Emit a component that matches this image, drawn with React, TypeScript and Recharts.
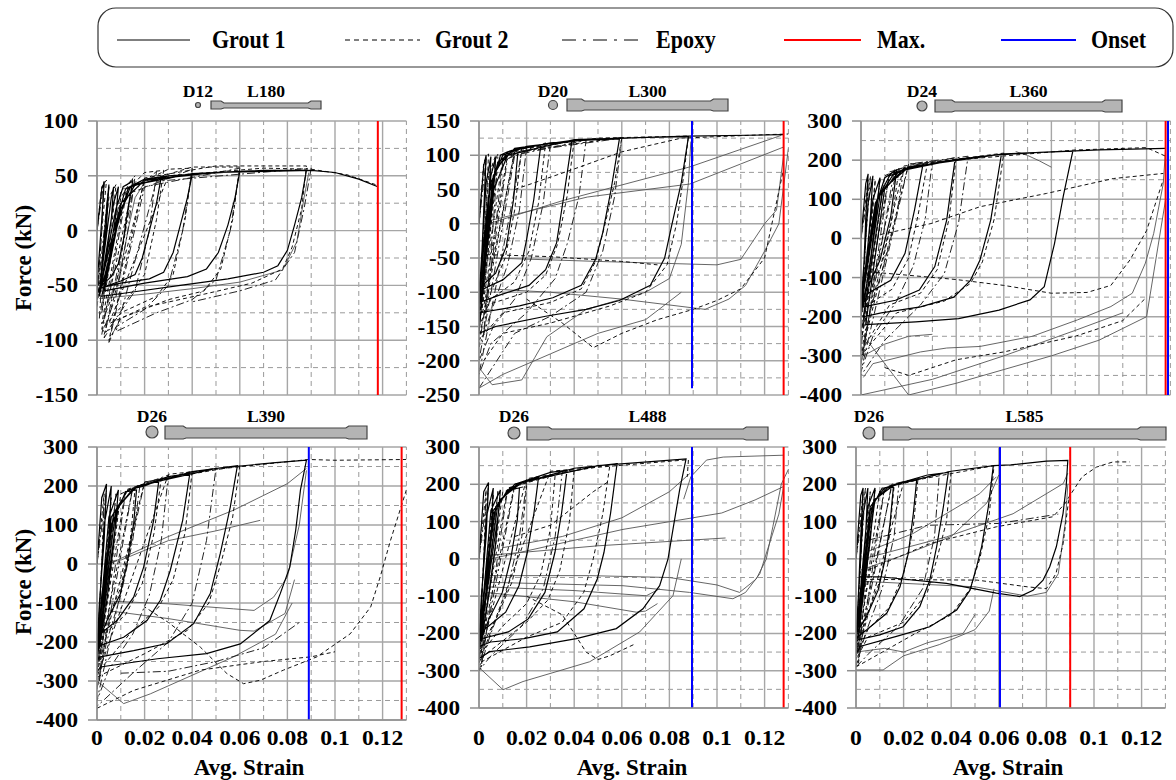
import React from "react";
import { LineChart, Line, XAxis, YAxis, ReferenceLine } from "recharts";

type Pt = [number, number] | null;

const xTicks = [0, 0.02, 0.04, 0.06, 0.08, 0.1, 0.12];
const xMinor = [0.01, 0.03, 0.05, 0.07, 0.09, 0.11, 0.13];
const yTicksP1 = [-150, -100, -50, 0, 50, 100];
const yMinorP1 = [-125, -75, -25, 25, 75];
const yTicksP2 = [-250, -200, -150, -100, -50, 0, 50, 100, 150];
const yMinorP2 = [-225, -175, -125, -75, -25, 25, 75, 125];
const yTicksBig = [-400, -300, -200, -100, 0, 100, 200, 300];
const yMinorBig = [-350, -250, -150, -50, 50, 150, 250];

const diameters = ["D12", "D20", "D24", "D26", "D26", "D26"];
const lengths = ["L180", "L300", "L360", "L390", "L488", "L585"];
const maxStrain = [0.118, 0.128, 0.128, 0.128, 0.128, 0.09];
const onsetStrain: (number | null)[] = [null, 0.0895, 0.129, 0.089, 0.0895, 0.0605];

// ---- D12 L180 ----
const p1Grout1: Pt[] = [
  [0, 0], [0.002, 38], [0.003, 44], [0.002, 10], [0, -50], [0.001, -58], [0.004, 20], [0.005, 42], [0.004, 5], [0.001, -55],
  [0.006, 30], [0.007, 40], [0.006, 10], [0.002, -50], [0.001, -60], [0.007, 25], [0.009, 40], [0.008, 15], [0.004, -40], [0.001, -55],
  [0.008, 20], [0.011, 40], [0.015, 45], [0.013, 20], [0.011, -10], [0.009, -30], [0.006, -42], [0.002, -50], [0.001, -55], [0.007, 0],
  [0.012, 38], [0.02, 47], [0.027, 49], [0.025, 25], [0.022, 0], [0.019, -25], [0.016, -40], [0.01, -46], [0.002, -52], [0.008, 0],
  [0.013, 38], [0.02, 47], [0.03, 50], [0.04, 51], [0.038, 30], [0.035, 5], [0.032, -20], [0.028, -38], [0.022, -44], [0.01, -48],
  [0.002, -52], [0.009, 10], [0.014, 40], [0.03, 50], [0.045, 52], [0.06, 54], [0.058, 30], [0.055, 5], [0.051, -20], [0.046, -35],
  [0.038, -42], [0.02, -48], [0.003, -55], [0.01, 20], [0.016, 42], [0.04, 52], [0.07, 55], [0.088, 55], [0.086, 30], [0.083, 5],
  [0.08, -18], [0.076, -32], [0.07, -38], [0.055, -44], [0.035, -50], [0.015, -56], [0.002, -60], [0.01, 25], [0.02, 46], [0.05, 53],
  [0.09, 55], [0.1, 53], [0.11, 47], [0.118, 40],
];
const p1Grout1b: Pt[] = [
  [0.001, -62], [0.02, -58], [0.04, -53], [0.06, -47], [0.078, -36], [0.084, -10], [0.087, 30], [0.089, 53],
  null, [0.003, -75], [0.01, -35], [0.013, 0], [0.016, 30], [0.02, 44],
];
const p1Grout2: Pt[] = [
  [0, 0], [0.002, 40], [0.004, 46], [0.002, 0], [0, -70], [0.005, 30], [0.008, 42], [0.006, 0], [0.002, -75], [0.01, 30],
  [0.015, 48], [0.012, 0], [0.008, -50], [0.002, -85], [0.012, 35], [0.02, 53], [0.028, 55], [0.025, 10], [0.02, -40], [0.012, -65],
  [0.002, -90], [0.015, 40], [0.03, 56], [0.04, 57], [0.037, 10], [0.032, -40], [0.025, -60], [0.01, -75], [0.003, -95], [0.02, 45],
  [0.04, 58], [0.06, 58], [0.057, 10], [0.052, -35], [0.045, -55], [0.03, -63], [0.01, -80], [0.005, -100], [0.02, 48], [0.05, 59],
  [0.088, 59], [0.086, 20], [0.082, -15], [0.078, -35], [0.065, -48], [0.045, -58], [0.02, -70], [0.005, -85], [0.03, 50], [0.07, 57],
  [0.09, 56], [0.105, 51], [0.117, 42],
];
const p1Epoxy: Pt[] = [
  [0, 0], [0.003, 45], [0.002, 0], [0, -60], [0.005, 40], [0.003, -10], [0.001, -80], [0.01, 35], [0.016, 50], [0.013, 0],
  [0.008, -60], [0.002, -95], [0.012, 30], [0.025, 54], [0.022, 0], [0.016, -55], [0.008, -80], [0.003, -98], [0.015, 35], [0.04, 56],
  [0.036, 0], [0.03, -50], [0.02, -72], [0.008, -88], [0.005, -102], [0.02, 40], [0.06, 57], [0.056, 0], [0.05, -45], [0.04, -63],
  [0.025, -75], [0.008, -92], [0.025, 45], [0.09, 57], [0.087, 20], [0.083, -20], [0.075, -45], [0.06, -55], [0.04, -65],
];

// ---- D20 L300 ----
const p2Grout1: Pt[] = [
  [0, 0], [0.002, 85], [0.003, 100], [0.002, 20], [0.001, -60], [0, -110], [0.003, 60], [0.005, 98], [0.004, 30], [0.002, -60],
  [0.001, -115], [0.005, 70], [0.007, 97], [0.006, 40], [0.003, -50], [0.001, -120], [0.006, 60], [0.009, 100], [0.012, 105], [0.0165, 110],
  [0.0145, 35], [0.0115, -33], [0.007, -72], [0.003, -85], [0, -95], [0.004, 40], [0.008, 90], [0.015, 108], [0.02, 112], [0.026, 115],
  [0.023, 35], [0.02, -23], [0.018, -57], [0.01, -82], [0.003, -93], [0, -100], [0.005, 60], [0.01, 100], [0.02, 113], [0.03, 117],
  [0.039, 120], [0.0354, 35], [0.0326, -28], [0.028, -67], [0.021, -90], [0.008, -105], [0, -115], [0.006, 70], [0.012, 105], [0.03, 118],
  [0.045, 122], [0.059, 124], [0.0555, 50], [0.052, -13], [0.049, -52], [0.043, -90], [0.031, -108], [0.017, -120], [0, -130], [0.007, 80],
  [0.015, 110], [0.04, 122], [0.07, 126], [0.088, 127], [0.085, 60], [0.081, -2], [0.078, -50], [0.072, -90], [0.059, -112], [0.045, -125],
  [0.028, -135], [0.007, -150], [0, -160], [0.005, 40], [0.012, 100], [0.04, 123], [0.088, 128], [0.128, 130],
];
const p2Grout1b: Pt[] = [
  [0.13, 110], [0.126, 0], [0.12, -40], [0.112, -90], [0.105, -110], [0.095, -125], [0.06, -110], [0.03, -100], [0.004, -95],
  null, [0.004, 0], [0.0354, 34], [0.0886, 83], [0.127, 129],
  null, [0.128, 100], [0.125, 20], [0.12, 0], [0.11, -52], [0.1, -60], [0.05, -55], [0.005, -50],
  null, [0.005, 5], [0.0455, 39], [0.0886, 58], [0.128, 112],
  null, [0, -210], [0.0055, -235], [0.018, -228], [0.0235, -195], [0.0285, -165], [0.045, -125], [0.07, -100], [0.08, -80], [0.085, -30], [0.088, 60], [0.089, 120],
  null, [0, -240], [0.01, -220], [0.03, -190], [0.05, -160], [0.07, -140], [0.085, -100],
];
const p2Grout2: Pt[] = [
  [0, 0], [0.002, 90], [0.004, 102], [0.003, 20], [0, -120], [0.004, 70], [0.007, 100], [0.005, 0], [0.001, -130], [0.008, 90],
  [0.018, 112], [0.015, 20], [0.011, -50], [0.005, -100], [0, -140], [0.01, 95], [0.028, 118], [0.025, 30], [0.021, -40], [0.015, -85],
  [0.005, -110], [0, -150], [0.012, 100], [0.04, 122], [0.037, 40], [0.033, -30], [0.028, -75], [0.02, -100], [0.002, -120], [0.015, 105],
  [0.06, 126], [0.057, 60], [0.053, 0], [0.049, -55], [0.043, -95], [0.03, -115], [0.01, -130], [0, -170], [0.015, 108], [0.05, 125],
  [0.088, 128], [0.086, 70], [0.083, 0], [0.079, -60], [0.07, -100], [0.055, -120], [0.03, -145], [0.01, -160], [0.002, -200],
  null, [0.015, 50], [0.04, 80], [0.06, 105], [0.085, 125], [0.12, 130], [0.13, 131],
  null, [0.02, -110], [0.035, -145], [0.048, -181], [0.06, -160], [0.075, -140], [0.09, -125], [0.1, -112], [0.11, -95], [0.12, -50], [0.128, 80],
  null, [0.003, -45], [0.03, -48], [0.06, -55], [0.075, -60],
];
const p2Epoxy: Pt[] = [
  [0, 0], [0.003, 95], [0.002, 0], [0, -150], [0.005, 80], [0.008, 102], [0.006, 0], [0.002, -160], [0.01, 90], [0.02, 112],
  [0.017, 20], [0.012, -60], [0.006, -120], [0, -180], [0.012, 95], [0.03, 118], [0.027, 30], [0.022, -50], [0.015, -110], [0.006, -150],
  [0, -200], [0.015, 100], [0.045, 122], [0.042, 40], [0.037, -30], [0.032, -80], [0.02, -130], [0.005, -175], [0, -220], [0.018, 105],
  [0.06, 125], [0.057, 40], [0.052, -40], [0.045, -100], [0.03, -135], [0.015, -160], [0, -240],
];

// ---- D24 L360 ----
const p3Grout1: Pt[] = [
  [0, 0], [0.002, 140], [0.003, 165], [0.002, 50], [0.001, -100], [0, -170], [0.003, 90], [0.005, 160], [0.004, 60], [0.002, -80],
  [0, -180], [0.005, 100], [0.008, 155], [0.006, 40], [0.003, -100], [0, -185], [0.006, 80], [0.01, 155], [0.015, 175], [0.0125, 56],
  [0.008, -55], [0.003, -123], [0, -160], [0.006, 90], [0.012, 160], [0.02, 178], [0.026, 188], [0.0225, 73], [0.0185, -38], [0.0125, -107],
  [0.003, -140], [0, -180], [0.007, 100], [0.014, 168], [0.03, 192], [0.0395, 201], [0.036, 47], [0.031, -72], [0.0245, -132], [0.0145, -158],
  [0.001, -175], [0.008, 110], [0.016, 172], [0.04, 202], [0.059, 215], [0.0545, 47], [0.05, -55], [0.046, -107], [0.039, -150], [0.025, -175],
  [0.0085, -190], [0.001, -200], [0.009, 120], [0.018, 178], [0.05, 210], [0.075, 220], [0.089, 223], [0.085, 108], [0.0813, -13], [0.077, -123],
  [0.071, -157], [0.058, -183], [0.041, -205], [0.023, -213], [0.002, -220], [0.01, 130], [0.02, 182], [0.06, 216], [0.1, 226], [0.128, 230],
];
const p3Grout1b: Pt[] = [
  [0.128, 230], [0.127, 140], [0.123, 13], [0.1195, -63], [0.114, -140], [0.105, -174], [0.091, -208], [0.072, -250], [0.05, -276], [0.036, -280],
  [0.025, -290], [0.005, -320], [0.001, -355],
  null, [0, -240], [0.02, -400], [0.04, -370], [0.06, -335], [0.08, -300], [0.1, -260], [0.12, -200], [0.128, 100],
  null, [0, -400], [0.03, -360], [0.06, -300], [0.09, -235], [0.11, -190],
  null, [0.065, 222], [0.07, 212], [0.075, 198], [0.08, 182],
  null, [0.001, -300], [0.01, -270], [0.02, -250], [0.03, -245],
];
const p3Grout2: Pt[] = [
  [0, 0], [0.003, 150], [0.002, 0], [0, -200], [0.006, 150], [0.004, 0], [0.001, -220], [0.01, 160], [0.016, 178], [0.013, 50],
  [0.009, -60], [0.003, -150], [0, -240], [0.012, 165], [0.028, 195], [0.024, 60], [0.02, -50], [0.013, -130], [0.003, -170], [0, -260],
  [0.015, 175], [0.04, 207], [0.037, 50], [0.032, -80], [0.025, -140], [0.012, -170], [0, -290], [0.018, 185], [0.06, 218], [0.056, 50],
  [0.051, -60], [0.046, -115], [0.035, -160], [0.015, -190], [0, -300], [0.02, 190], [0.09, 226], [0.12, 232], [0.128, 210],
  null, [0.0083, 10], [0.0294, 38], [0.05, 81], [0.078, 115], [0.106, 153], [0.127, 166],
  null, [0.003, -85], [0.04, -105], [0.06, -120], [0.08, -140], [0.095, -138], [0.105, -120], [0.113, -55], [0.12, 20], [0.127, 150],
  null, [0.01, -330], [0.02, -350], [0.04, -310], [0.06, -290], [0.09, -250], [0.11, -210], [0.12, -150],
];
const p3Epoxy: Pt[] = [
  [0, 0], [0.004, 160], [0.002, 0], [0, -280], [0.008, 150], [0.005, 0], [0.001, -300], [0.012, 170], [0.018, 180], [0.015, 60],
  [0.01, -60], [0.004, -180], [0, -320], [0.014, 175], [0.03, 198], [0.027, 50], [0.022, -70], [0.015, -160], [0.005, -250], [0, -340],
  [0.02, 190], [0.045, 210], [0.041, 40], [0.035, -90], [0.025, -170], [0.01, -260], [0, -350],
];

// ---- D26 L390 ----
const p4Grout1: Pt[] = [
  [0, 0], [0.002, 170], [0.004, 205], [0.003, 60], [0.001, -100], [0, -220], [0.003, 100], [0.006, 200], [0.005, 60], [0.002, -80],
  [0, -230], [0.005, 120], [0.009, 190], [0.007, 50], [0.004, -100], [0.001, -210], [0.006, 100], [0.012, 185], [0.0166, 190], [0.0154, 103],
  [0.0126, 0], [0.0098, -77], [0.0042, -145], [0.0007, -196], [0, -220], [0.006, 120], [0.013, 190], [0.02, 200], [0.026, 215], [0.0238, 112],
  [0.0196, -8], [0.0154, -85], [0.0084, -145], [0.0014, -179], [0, -210], [0.007, 130], [0.015, 192], [0.03, 224], [0.039, 232], [0.036, 112],
  [0.0308, -16], [0.0266, -93], [0.021, -145], [0.0112, -188], [0.0014, -209], [0, -230], [0.008, 140], [0.016, 195], [0.04, 237], [0.059, 252],
  [0.056, 146], [0.0518, 27], [0.0476, -76], [0.0406, -153], [0.0294, -204], [0.0154, -222], [0.0014, -238], [0, -245], [0.009, 150], [0.017, 200],
  [0.05, 245], [0.075, 260], [0.088, 266], [0.0855, 190], [0.0835, 87], [0.081, -8], [0.077, -76], [0.0726, -145], [0.0602, -205], [0.046, -230],
  [0.0254, -243], [0.0014, -264], [0, -277],
];
const p4Grout1b: Pt[] = [
  [0.005, 0], [0.0294, 69], [0.0574, 138], [0.08, 206], [0.088, 245],
  null, [0.01, 10], [0.03, 60], [0.05, 85], [0.0686, 112],
  null, [0.005, -95], [0.0294, -102], [0.0574, -115], [0.066, -119], [0.0742, -85], [0.08, -33], [0.085, 100], [0.088, 240],
  null, [0.005, -120], [0.03, -140], [0.06, -170], [0.066, -172], [0.079, -127], [0.083, -40],
  null, [0, -300], [0.0112, -358], [0.0224, -333], [0.0574, -238], [0.075, -180], [0.082, -100],
];
const p4Grout2: Pt[] = [
  [0, 0], [0.003, 180], [0.002, 0], [0, -240], [0.006, 170], [0.004, 0], [0.001, -250], [0.01, 180], [0.016, 195], [0.014, 60],
  [0.01, -60], [0.004, -150], [0, -260], [0.012, 190], [0.027, 220], [0.024, 80], [0.019, -50], [0.012, -130], [0.003, -180], [0, -270],
  [0.015, 195], [0.04, 238], [0.037, 80], [0.032, -40], [0.026, -110], [0.015, -170], [0, -280], [0.02, 210], [0.06, 252], [0.057, 120],
  [0.052, 0], [0.047, -100], [0.038, -170], [0.02, -230], [0, -290], [0.03, 230], [0.089, 268], [0.1, 266], [0.13, 268],
  null, [0.13, 190], [0.1233, 60], [0.119, -33], [0.115, -110], [0.1064, -179], [0.0924, -238], [0.0784, -272], [0.0686, -298], [0.0616, -307],
  [0.0546, -281], [0.0434, -213], [0.03, -150], [0.02, -110],
  null, [0, -370], [0.0154, -324], [0.0434, -272], [0.07, -250], [0.09, -238], [0.1, -225],
];
const p4Epoxy: Pt[] = [
  [0, 0], [0.004, 190], [0.002, 0], [0, -280], [0.008, 180], [0.005, 0], [0.001, -300], [0.012, 185], [0.018, 200], [0.015, 60],
  [0.01, -80], [0.004, -200], [0, -320], [0.015, 195], [0.03, 228], [0.027, 60], [0.022, -80], [0.015, -180], [0.005, -270], [0, -350],
  [0.02, 210], [0.05, 246], [0.046, 60], [0.04, -100], [0.03, -200], [0.015, -280], [0, -365],
  null, [0.01, -280], [0.03, -275], [0.05, -250], [0.07, -215], [0.085, -150],
];

// ---- D26 L488 ----
const p5Grout1: Pt[] = [
  [0, 0], [0.002, 180], [0.004, 205], [0.003, 60], [0.001, -100], [0, -230], [0.003, 110], [0.006, 190], [0.005, 50], [0.002, -90],
  [0, -240], [0.005, 130], [0.009, 185], [0.007, 40], [0.004, -100], [0.001, -220], [0.006, 120], [0.012, 185], [0.017, 190], [0.0161, 105],
  [0.0133, -1], [0.0098, -90], [0.0042, -161], [0.0014, -205], [0, -220], [0.006, 130], [0.013, 190], [0.02, 208], [0.025, 218], [0.0231, 123],
  [0.0203, 17], [0.0168, -72], [0.0112, -143], [0.0028, -187], [0, -200], [0.007, 140], [0.015, 200], [0.03, 232], [0.037, 238], [0.0347, 123],
  [0.0319, 17], [0.0277, -90], [0.0207, -161], [0.0123, -196], [0.001, -214], [0, -225], [0.008, 150], [0.016, 200], [0.04, 243], [0.058, 255],
  [0.0553, 123], [0.0525, 17], [0.0497, -54], [0.0441, -134], [0.0329, -196], [0.0189, -214], [0.0049, -223], [0, -235], [0.009, 160], [0.018, 205],
  [0.05, 250], [0.075, 262], [0.087, 268], [0.0843, 185], [0.0815, 79], [0.0794, -1], [0.0759, -72], [0.0689, -134], [0.0577, -187], [0.0409, -214],
  [0.0213, -236], [0.0045, -249], [0, -267],
];
const p5Grout1b: Pt[] = [
  [0.0045, -45], [0.0465, -45], [0.08, -50], [0.1, -70], [0.1095, -90], [0.1165, -54], [0.1207, -1], [0.1235, 87], [0.127, 200], [0.13, 240],
  null, [0.0049, -63], [0.0605, -72], [0.0885, -90], [0.1067, -107], [0.112, -90], [0.118, -40], [0.122, 40], [0.126, 120], [0.128, 194],
  null, [0.005, 0], [0.0605, 79], [0.102, 123], [0.116, 158], [0.128, 194],
  null, [0.005, 10], [0.05, 35], [0.1036, 56],
  null, [0.086, 160], [0.089, 220], [0.0956, 265], [0.1026, 273], [0.128, 278],
  null, [0.01, 30], [0.035, 60], [0.06, 110], [0.08, 180], [0.0886, 229],
  null, [0.0003, -293], [0.0101, -351], [0.0185, -329], [0.0465, -276], [0.0675, -196], [0.0815, -99], [0.085, 0],
  null, [0.003, -75], [0.04, -85], [0.0703, -99], [0.076, -80],
  null, [0.003, -90], [0.04, -115], [0.0661, -143], [0.07, -140], [0.075, -120],
];
const p5Grout2: Pt[] = [
  [0, 0], [0.003, 185], [0.002, 0], [0, -240], [0.006, 175], [0.004, 0], [0.001, -250], [0.01, 180], [0.02, 195], [0.018, 60],
  [0.014, -60], [0.008, -150], [0, -250], [0.012, 190], [0.032, 225], [0.03, 80], [0.026, -40], [0.02, -120], [0.01, -180], [0, -260],
  [0.015, 200], [0.04, 240], [0.038, 100], [0.034, -30], [0.029, -110], [0.02, -170], [0, -270], [0.02, 215], [0.055, 252], [0.052, 120],
  [0.048, 0], [0.044, -90], [0.035, -170], [0.02, -210], [0, -280], [0.03, 235], [0.088, 266], [0.0875, 220],
  null, [0.015, 60], [0.03, 90], [0.04, 140], [0.048, 180], [0.055, 210],
  null, [0.02, -100], [0.035, -150], [0.04, -200], [0.045, -250], [0.05, -270], [0.055, -260], [0.065, -230],
];
const p5Epoxy: Pt[] = [
  [0, 0], [0.004, 195], [0.002, 0], [0, -280], [0.008, 185], [0.005, 0], [0.001, -290], [0.012, 185], [0.02, 205], [0.017, 60],
  [0.012, -80], [0.005, -200], [0, -300], [0.015, 195], [0.035, 235], [0.032, 60], [0.027, -80], [0.018, -180], [0.005, -260], [0, -300],
];

// ---- D26 L585 ----
const p6Grout1: Pt[] = [
  [0, 0], [0.002, 170], [0.003, 190], [0.002, 60], [0.001, -100], [0, -210], [0.003, 120], [0.005, 190], [0.004, 60], [0.002, -80],
  [0, -220], [0.005, 140], [0.008, 190], [0.006, 50], [0.003, -100], [0.001, -210], [0.006, 130], [0.011, 190], [0.0157, 192], [0.0143, 95],
  [0.0122, -3], [0.0093, -84], [0.0044, -155], [0.0002, -200], [0, -215], [0.006, 140], [0.012, 190], [0.02, 205], [0.0255, 212], [0.0241, 122],
  [0.022, 15], [0.0185, -75], [0.0129, -146], [0.0045, -190], [0.0009, -208], [0, -220], [0.007, 150], [0.014, 195], [0.03, 225], [0.0388, 232],
  [0.0367, 139], [0.0339, 33], [0.031, -57], [0.0268, -128], [0.0198, -182], [0.01, -204], [0.0009, -217], [0, -225], [0.008, 160], [0.016, 198],
  [0.04, 235], [0.0577, 250], [0.0556, 139], [0.0528, 33], [0.0507, -21], [0.0479, -84], [0.0423, -137], [0.031, -182], [0.017, -208], [0.0016, -235],
  [0.0002, -253],
  null, [0.0577, 250], [0.065, 252], [0.08, 262], [0.089, 264], [0.0883, 193], [0.087, 122],
  [0.0842, 33], [0.0814, -21], [0.0786, -57], [0.0744, -84], [0.0688, -101], [0.059, -92], [0.038, -66], [0.01, -48], [0.0016, -48],
];
const p6Grout1b: Pt[] = [
  [0.005, 20], [0.024, 68], [0.052, 175], [0.059, 220],
  null, [0.003, 0], [0.0381, 59], [0.066, 121], [0.0871, 202], [0.089, 230],
  null, [0.002, -60], [0.05, -75], [0.072, -100], [0.08, -90], [0.085, -40], [0.088, 100], [0.089, 200],
  null, [0, -298], [0.0114, -298], [0.02, -260], [0.035, -230], [0.05, -190], [0.056, -140], [0.058, -80],
  null, [0, -250], [0.012, -240], [0.02, -250], [0.03, -225], [0.045, -200], [0.05, -150],
  null, [0.002, -30], [0.02, 10], [0.04, 60], [0.055, 150], [0.06, 225],
];
const p6Grout2: Pt[] = [
  [0, 0], [0.003, 180], [0.002, 0], [0, -230], [0.006, 180], [0.004, 0], [0.001, -240], [0.01, 185], [0.016, 195], [0.014, 60],
  [0.01, -60], [0.004, -160], [0, -250], [0.012, 190], [0.026, 212], [0.024, 80], [0.02, -40], [0.014, -130], [0.005, -190], [0, -260],
  [0.015, 195], [0.04, 235], [0.038, 100], [0.034, 0], [0.03, -90], [0.02, -170], [0.005, -210], [0, -270], [0.02, 205], [0.058, 250],
  [0.056, 120], [0.052, 0], [0.048, -80], [0.04, -150], [0.025, -200], [0, -290],
  null, [0.005, -30], [0.031, 41], [0.059, 86], [0.0828, 113], [0.088, 150], [0.0895, 166], [0.095, 220], [0.101, 246], [0.108, 260], [0.115, 260],
  null, [0.003, -55], [0.0509, -57], [0.072, -75], [0.08, -80], [0.084, -40], [0.087, 40], [0.089, 140], [0.09, 180],
];
const p6Epoxy: Pt[] = [
  [0, 0], [0.004, 190], [0.002, 0], [0, -260], [0.008, 185], [0.005, 0], [0.001, -280], [0.012, 190], [0.018, 200], [0.016, 60],
  [0.011, -80], [0.004, -200], [0, -290], [0.015, 200], [0.035, 228], [0.033, 60], [0.028, -80], [0.018, -180], [0.006, -250], [0, -290],
  null, [0.005, 50], [0.03, 90], [0.06, 95], [0.085, 120],
];

const rows = (pts: Pt[]) => {
  let lastX = 0;
  return pts.map((p) => {
    if (p === null) return { x: lastX, y: null };
    lastX = p[0];
    return { x: p[0], y: p[1] };
  });
};

const FONT = "Liberation Serif";
const txt = { fontFamily: FONT, fontWeight: 700 } as const;
const PLOT_W = 309.4;
const Y_W = 80;
const TOP_M = 12;

const YTick = (props: any) => {
  const { x, y, payload } = props;
  return (
    <text transform={`translate(${x},${y}) scale(1.16,1)`} textAnchor="end" dy="0.35em" fontSize={20} fill="#000" style={txt}>
      {payload.value}
    </text>
  );
};

const XTick = (props: any) => {
  const { x, y, payload } = props;
  return (
    <text transform={`translate(${x},${y}) scale(1.18,1)`} textAnchor="middle" dy="0.71em" fontSize={20} fill="#000" style={txt}>
      {payload.value}
    </text>
  );
};

type PanelProps = {
  i: number;
  left: number;
  top: number;
  h: number;
  bottom: boolean;
  labelGap: number;
  yTicks: number[];
  yMinor: number[];
  g1: Pt[];
  g1b: Pt[];
  g2: Pt[];
  ep: Pt[];
  onsetBottom?: number;
};

function Panel({ i, left, top, h, bottom, labelGap, yTicks, yMinor, g1, g1b, g2, ep, onsetBottom }: PanelProps) {
  const yMin = yTicks[0];
  const yMax = yTicks[yTicks.length - 1];
  const xh = bottom ? 50 : 0;
  const mb = bottom ? 0 : 16;
  const onset = onsetStrain[i];
  return (
    <div style={{ position: "absolute", left: left - Y_W, top: top - TOP_M }}>
      <LineChart width={Y_W + PLOT_W + 4} height={TOP_M + h + xh + mb}
        margin={{ top: TOP_M, right: 4, bottom: mb, left: 0 }}>
        <XAxis dataKey="x" type="number" domain={[0, 0.13]} ticks={xTicks} interval={0} allowDataOverflow
          hide={!bottom} height={xh} axisLine={{ stroke: "#8f8f8f", strokeWidth: 1.5 }} tickLine={false}
          tickSize={6} tickMargin={labelGap} tick={XTick} />
        <YAxis type="number" domain={[yMin, yMax]} ticks={yTicks} interval={0} allowDataOverflow width={Y_W}
          axisLine={{ stroke: "#8f8f8f", strokeWidth: 1.5 }} tickLine={{ stroke: "#8f8f8f", strokeWidth: 1.5 }}
          tickSize={9} tickMargin={10} tick={YTick} />
        {xMinor.map((v) => (
          <ReferenceLine key={"xm" + v} x={v} stroke="#9a9a9a" strokeWidth={1} strokeDasharray="5 4" />
        ))}
        {yMinor.map((v) => (
          <ReferenceLine key={"ym" + v} y={v} stroke="#9a9a9a" strokeWidth={1} strokeDasharray="5 4" />
        ))}
        {xTicks.map((v) => (
          <ReferenceLine key={"xt" + v} x={v} stroke="#a6a6a6" strokeWidth={1.4} />
        ))}
        {yTicks.map((v) => (
          <ReferenceLine key={"yt" + v} y={v} stroke="#a6a6a6" strokeWidth={1.4} />
        ))}
        <Line data={rows(g1b)} dataKey="y" stroke="#555" strokeWidth={0.9} dot={false} activeDot={false} isAnimationActive={false} />
        <Line data={rows(ep)} dataKey="y" stroke="#222" strokeWidth={1} strokeDasharray="8 3 2 3" dot={false} activeDot={false} isAnimationActive={false} />
        <Line data={rows(g2)} dataKey="y" stroke="#111" strokeWidth={1} strokeDasharray="4 3" dot={false} activeDot={false} isAnimationActive={false} />
        <Line data={rows(g1)} dataKey="y" stroke="#000" strokeWidth={1.2} dot={false} activeDot={false} isAnimationActive={false} />
        <ReferenceLine x={maxStrain[i]} stroke="#ff0000" strokeWidth={2} />
        {onset !== null && (
          <ReferenceLine
            segment={[{ x: onset, y: yMax }, { x: onset, y: onsetBottom ?? yMin }]}
            stroke="#0000ff" strokeWidth={2} />
        )}
      </LineChart>
    </div>
  );
}

function BarIcon({ i, cx, cy, r, x0, x1, t, b, base }: { i: number; cx: number; cy: number; r: number; x0: number; x1: number; t: number; b: number; base: number }) {
  const g = Math.max(10, (x1 - x0) * 0.09);
  const d = `M${x0},${t} H${x0 + g} L${x0 + g + 3},${t + 2} H${x1 - g - 3} L${x1 - g},${t} H${x1} V${b} H${x1 - g} L${x1 - g - 3},${b - 1} H${x0 + g + 3} L${x0 + g},${b} H${x0} Z`;
  const lx = (x0 + x1) / 2;
  return (
    <g>
      <text transform={`translate(${cx},${base}) scale(1.1,1)`} textAnchor="middle" fontSize={16} style={txt}>
        {diameters[i]}
      </text>
      <text transform={`translate(${lx},${base}) scale(1.1,1)`} textAnchor="middle" fontSize={16} style={txt}>
        {lengths[i]}
      </text>
      <circle cx={cx} cy={cy} r={r} fill="#b4b4b4" stroke="#444" strokeWidth={1.2} />
      <path d={d} fill="#b4b4b4" stroke="#444" strokeWidth={1.2} />
    </g>
  );
}

function LegendItem({ x0, x1, tx, label, stroke, width, dash }: { x0: number; x1: number; tx: number; label: string; stroke: string; width: number; dash?: string }) {
  return (
    <g>
      <line x1={x0} y1={40} x2={x1} y2={40} stroke={stroke} strokeWidth={width} strokeDasharray={dash} />
      <text transform={`translate(${tx},48) scale(0.88,1)`} fontSize={25} fill="#000" style={txt}>
        {label}
      </text>
    </g>
  );
}

function AxisTitles() {
  const ys = (cx: number, cy: number) => (
    <text transform={`translate(${cx},${cy}) rotate(-90)`} textAnchor="middle" fontSize={23} style={txt}>
      Force (kN)
    </text>
  );
  const xs = (cx: number) => (
    <text x={cx} y={775} textAnchor="middle" fontSize={23} style={txt}>
      Avg. Strain
    </text>
  );
  return (
    <g>
      {ys(31, 258)}
      {ys(31, 582)}
      {xs(249)}
      {xs(632)}
      {xs(1008)}
    </g>
  );
}

export default function App() {
  return (
    <div style={{ position: "absolute", left: 0, top: 0, width: 1176, height: 780, background: "#fff", overflow: "hidden" }}>
      <Panel i={0} left={97} top={121} h={274} bottom={false} labelGap={0} yTicks={yTicksP1} yMinor={yMinorP1}
        g1={p1Grout1} g1b={p1Grout1b} g2={p1Grout2} ep={p1Epoxy} />
      <Panel i={1} left={479} top={121} h={274} bottom={false} labelGap={0} yTicks={yTicksP2} yMinor={yMinorP2}
        g1={p2Grout1} g1b={p2Grout1b} g2={p2Grout2} ep={p2Epoxy} onsetBottom={-240} />
      <Panel i={2} left={861} top={121} h={274} bottom={false} labelGap={0} yTicks={yTicksBig} yMinor={yMinorBig}
        g1={p3Grout1} g1b={p3Grout1b} g2={p3Grout2} ep={p3Epoxy} />
      <Panel i={3} left={97} top={447} h={273} bottom={true} labelGap={5} yTicks={yTicksBig} yMinor={yMinorBig}
        g1={p4Grout1} g1b={p4Grout1b} g2={p4Grout2} ep={p4Epoxy} />
      <Panel i={4} left={479} top={447} h={261} bottom={true} labelGap={17} yTicks={yTicksBig} yMinor={yMinorBig}
        g1={p5Grout1} g1b={p5Grout1b} g2={p5Grout2} ep={p5Epoxy} />
      <Panel i={5} left={856} top={447} h={261} bottom={true} labelGap={17} yTicks={yTicksBig} yMinor={yMinorBig}
        g1={p6Grout1} g1b={p6Grout1b} g2={p6Grout2} ep={p6Epoxy} />
      <svg width={1176} height={780} style={{ position: "absolute", left: 0, top: 0, pointerEvents: "none" }}>
        <rect x={98} y={8} width={1075} height={59} rx={18} ry={18} fill="none" stroke="#333" strokeWidth={1.2} />
        <LegendItem x0={117} x1={190} tx={212} label="Grout 1" stroke="#000" width={1} />
        <LegendItem x0={345} x1={420} tx={435} label="Grout 2" stroke="#000" width={1} dash="5 4" />
        <LegendItem x0={562} x1={640} tx={656} label="Epoxy" stroke="#000" width={1} dash="14 7 3 7" />
        <LegendItem x0={784} x1={861} tx={877} label="Max." stroke="#ff0000" width={2} />
        <LegendItem x0={1001} x1={1076} tx={1091} label="Onset" stroke="#0000ff" width={2} />
        <BarIcon i={0} cx={198} cy={105} r={2.5} x0={211} x1={321} t={101} b={109} base={97} />
        <BarIcon i={1} cx={553} cy={105} r={4.5} x0={567} x1={728} t={99} b={111} base={97} />
        <BarIcon i={2} cx={922} cy={106} r={5} x0={935} x1={1122} t={100} b={112} base={97} />
        <BarIcon i={3} cx={152} cy={432} r={6} x0={165} x1={367} t={426} b={439} base={422} />
        <BarIcon i={4} cx={514} cy={433} r={6} x0={527} x1={768} t={427} b={440} base={422} />
        <BarIcon i={5} cx={869} cy={433} r={6} x0={883} x1={1166} t={427} b={440} base={422} />
        <AxisTitles />
      </svg>
    </div>
  );
}
